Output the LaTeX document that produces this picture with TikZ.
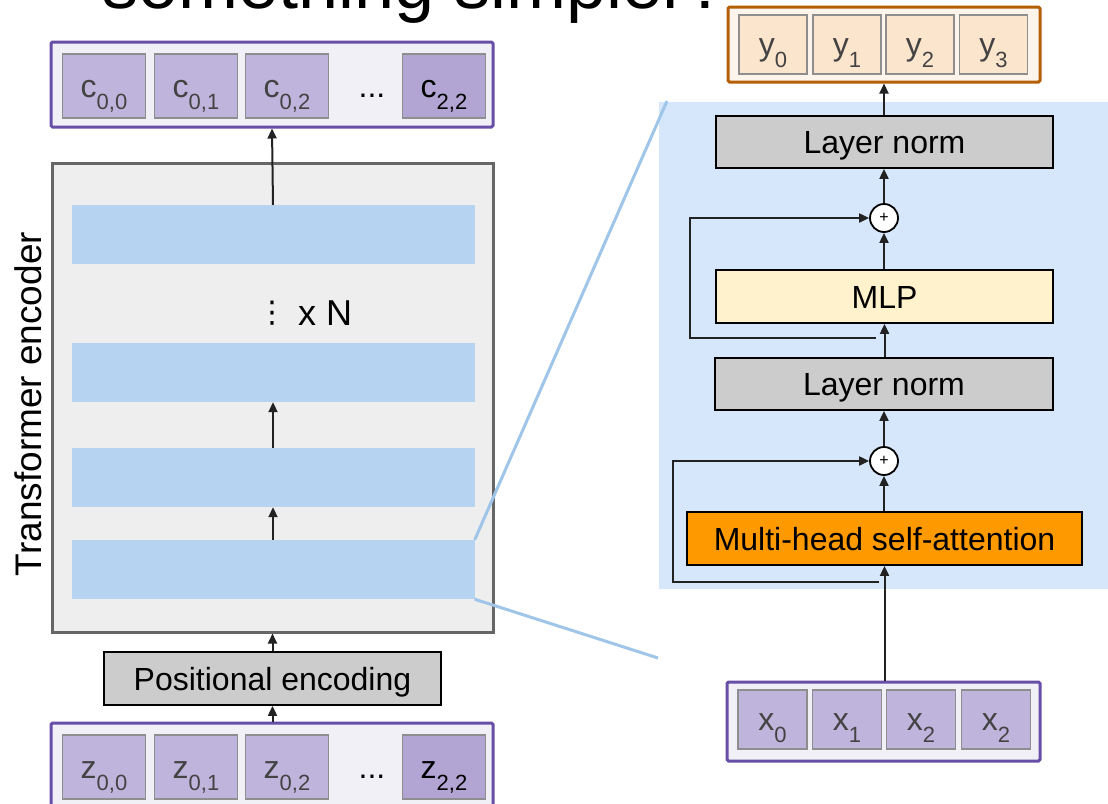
\documentclass[tikz,border=0pt]{standalone}
\usepackage{fontspec}
\setmainfont{Liberation Sans}
\newfontfamily\dejavu{DejaVu Sans}
\usetikzlibrary{arrows.meta}
\definecolor{purp}{HTML}{674EA7}
\definecolor{orng}{HTML}{B45F06}
\definecolor{rowbg}{HTML}{F1F0F7}
\definecolor{ybg}{HTML}{FDF5EC}
\definecolor{pcellc}{HTML}{BFB4DC}
\definecolor{pcelld}{HTML}{B2A5D4}
\definecolor{ycellc}{HTML}{FCE5CD}
\definecolor{cellbd}{HTML}{8E8E8E}
\definecolor{celltxt}{HTML}{434343}
\definecolor{lngray}{HTML}{CCCCCC}
\definecolor{mlpc}{HTML}{FFF2CC}
\definecolor{mhsac}{HTML}{FF9900}
\definecolor{barc}{HTML}{B6D3F1}
\definecolor{panelc}{HTML}{D6E7FC}
\definecolor{linkc}{HTML}{9FC5E8}
\definecolor{tboxbd}{HTML}{666666}
\definecolor{tboxbg}{HTML}{EEEEEE}
\definecolor{arrc}{HTML}{222222}
\newcommand\mysub[2]{#1\raisebox{-12pt}{\fontsize{22}{22}\selectfont #2}}
\begin{document}
\begin{tikzpicture}[x=1pt,y=-1pt,
  lbl/.style={font=\fontsize{32}{38}\selectfont, text height=23pt, text depth=0pt, inner sep=0pt},
  gbox/.style={lbl, draw=black, line width=1.8pt},
  outerP/.style={draw=purp, line width=3pt, fill=rowbg, rounded corners=1.5pt, inner sep=0pt},
  outerO/.style={draw=orng, line width=3pt, fill=ybg, rounded corners=1.5pt, inner sep=0pt},
  cellt/.style={font=\fontsize{32}{38}\selectfont, text height=28pt, text depth=6pt, inner sep=0pt, text=celltxt},
  pcell/.style={cellt, draw=cellbd, line width=1.5pt, fill=pcellc, minimum width=83pt, minimum height=64pt},
  xcell/.style={cellt, draw=cellbd, line width=1.5pt, fill=pcellc, minimum width=69pt, minimum height=59pt},
  ycell/.style={cellt, draw=cellbd, line width=1.5pt, fill=ycellc, minimum width=68pt, minimum height=59pt},
  bar/.style={fill=barc, inner sep=0pt, minimum width=403pt, minimum height=59pt},
  plusnode/.style={circle, draw=black, line width=1.8pt, fill=white, minimum size=28pt, inner sep=0pt, font=\fontsize{16}{16}\selectfont},
  arr/.style={-{Triangle[length=10pt,width=9pt]}, line width=2pt, draw=arrc},
  skip/.style={-{Triangle[length=10pt,width=9pt]}, line width=2pt, draw=arrc},
  link/.style={draw=linkc, line width=3pt}
]
\clip (0,0) rectangle (1108,803);
\fill[white] (0,0) rectangle (1108,803);

% title (cut off at top, as in the reference)
\node[font=\fontsize{72}{80}\selectfont, anchor=base west, inner sep=0pt] (title) at (102,9) {something simpler?};

% ---------- left: encoder ----------
\node[outerP, minimum width=442pt, minimum height=85pt] (crow) at (272,84.5) {};
\node[pcell] (c00) at (104,86) {\mysub{c}{0,0}};
\node[pcell] (c01) at (196,86) {\mysub{c}{0,1}};
\node[pcell] (c02) at (287,86) {\mysub{c}{0,2}};
\node[cellt, text=black] (cdots) at (372,86) {...};
\node[pcell, fill=pcelld, text=black] (c22) at (444,86) {\mysub{c}{2,2}};

\node[draw=tboxbd, line width=3pt, fill=tboxbg, minimum width=441pt, minimum height=469pt, inner sep=0pt] (tbox) at (272.5,397.5) {};
\node[bar] (b1) at (273,234.5) {};
\node[bar] (b2) at (273,372.5) {};
\node[bar] (b3) at (273,477.5) {};
\node[bar] (b4) at (273,569.5) {};
\node[font=\fontsize{30}{34}\selectfont\dejavu, inner sep=0pt] (vd) at (272,313) {⋮};
\node[font=\fontsize{36}{40}\selectfont, anchor=base west, inner sep=0pt] (xn) at (298,325) {x N};
\node[font=\fontsize{37}{42}\selectfont, text height=26.5pt, text depth=0pt, inner sep=0pt, rotate=90] (tlabel) at (28.5,404) {Transformer encoder};

\draw[arr] (b1.north) -- (crow.south);
\draw[arr] (b3.north) -- (b2.south);
\draw[arr] (b4.north) -- (b3.south);

\node[gbox, fill=lngray, minimum width=337pt, minimum height=53pt] (pe) at (272.5,678.5) {Positional encoding};
\draw[arr] (pe.north) -- (tbox.south);

\node[outerP, minimum width=442pt, minimum height=85pt] (zrow) at (272,765.5) {};
\node[pcell] (z00) at (104,767) {\mysub{z}{0,0}};
\node[pcell] (z01) at (196,767) {\mysub{z}{0,1}};
\node[pcell] (z02) at (287,767) {\mysub{z}{0,2}};
\node[cellt, text=black] (zdots) at (372,767) {...};
\node[pcell, fill=pcelld, text=black] (z22) at (444,767) {\mysub{z}{2,2}};
\draw[arr] (zrow.north -| pe.south) -- (pe.south);

% ---------- right: block ----------
\node[fill=panelc, minimum width=449pt, minimum height=487pt, inner sep=0pt] (panel) at (883.5,345.5) {};

\coordinate (zt) at (667,101);
\coordinate (zb) at (658,658);
\draw[link] (b4.north east) -- (zt);
\draw[link] (b4.south east) -- (zb);

\node[outerO, minimum width=312pt, minimum height=75pt] (yrow) at (884,44.5) {};
\node[ycell] (y0) at (773,44.5) {\mysub{y}{0}};
\node[ycell] (y1) at (847,44.5) {\mysub{y}{1}};
\node[ycell] (y2) at (920,44.5) {\mysub{y}{2}};
\node[ycell] (y3) at (993.5,44.5) {\mysub{y}{3}};

\node[gbox, fill=lngray, minimum width=337pt, minimum height=52pt] (ln1) at (884.5,142) {Layer norm};
\node[plusnode] (p1) at (884,218) {+};
\node[gbox, fill=mlpc, minimum width=337pt, minimum height=53pt] (mlp) at (884.5,296.5) {MLP};
\node[gbox, fill=lngray, minimum width=338pt, minimum height=52pt] (ln2) at (884,384) {Layer norm};
\node[plusnode] (p2) at (884,461) {+};
\node[gbox, fill=mhsac, minimum width=395pt, minimum height=53pt] (mhsa) at (884.5,538.5) {Multi-head self-attention};

\node[outerP, minimum width=313pt, minimum height=79pt] (xrow) at (883.5,721.5) {};
\node[xcell] (x0) at (772.5,719.5) {\mysub{x}{0}};
\node[xcell] (x1) at (847,719.5) {\mysub{x}{1}};
\node[xcell] (x2) at (921,719.5) {\mysub{x}{2}};
\node[xcell] (x3) at (996,719.5) {\mysub{x}{2}};

\draw[arr] (ln1.north -| yrow.south) -- (yrow.south);
\draw[arr] (p1.north) -- (p1.north |- ln1.south);
\draw[arr] (mlp.north -| p1.south) -- (p1.south);
\draw[arr] (ln2.north -| mlp.south) -- (mlp.south);
\draw[arr] (p2.north) -- (p2.north |- ln2.south);
\draw[arr] (mhsa.north -| p2.south) -- (p2.south);
\draw[arr] (xrow.north -| mhsa.south) -- (mhsa.south);

\coordinate (s1) at (879,582);
\coordinate (k1) at (673,582);
\draw[skip] (s1) -- (k1) |- (p2.west);
\coordinate (s2) at (876,338);
\coordinate (k2) at (690,338);
\draw[skip] (s2) -- (k2) |- (p1.west);
\end{tikzpicture}
\end{document}
